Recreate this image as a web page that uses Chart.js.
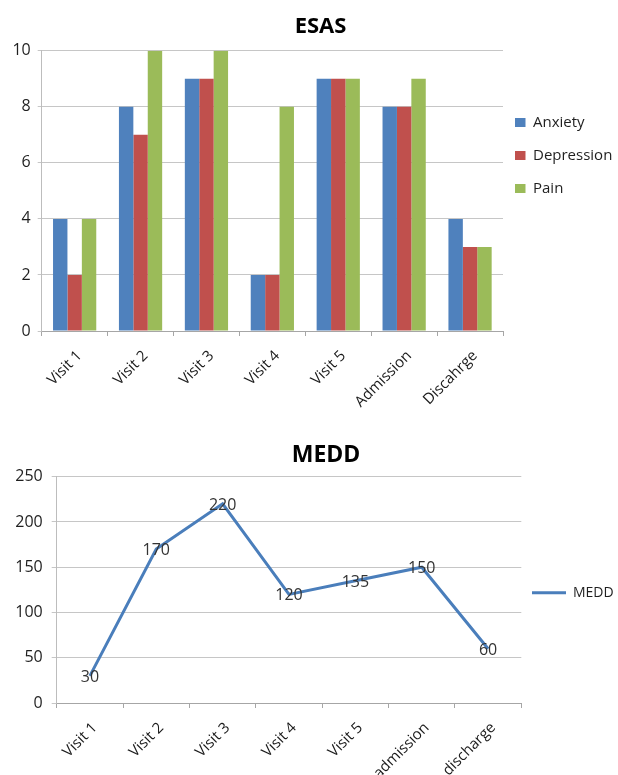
<!DOCTYPE html>
<html>
<head>
<meta charset="utf-8">
<script src="https://cdn.jsdelivr.net/npm/chart.js@4.4.1/dist/chart.umd.min.js"></script>
<style>
  html, body { margin: 0; padding: 0; background: #ffffff; }
  #wrap { position: relative; width: 618px; height: 775px; overflow: hidden; }
  canvas { position: absolute; left: 0; }
  #esas { top: 0; }
  #medd { top: 420px; }
</style>
</head>
<body>
<div id="wrap">
  <canvas id="esas" width="618" height="420"></canvas>
  <canvas id="medd" width="618" height="355"></canvas>
</div>
<script>
// ESAS symptom scores per visit
const esasCategories = ['Visit 1', 'Visit 2', 'Visit 3', 'Visit 4', 'Visit 5', 'Admission', 'Discahrge'];
const anxiety = [4, 8, 9, 2, 9, 8, 4];
const depression = [2, 7, 9, 2, 9, 8, 3];
const pain = [4, 10, 10, 8, 9, 9, 3];
const esasTicks = [0, 2, 4, 6, 8, 10];

// Morphine equivalent daily dose per visit
const meddCategories = ['Visit 1', 'Visit 2', 'Visit 3', 'Visit 4', 'Visit 5', 'admission', 'discharge'];
const medd = [30, 170, 220, 120, 135, 150, 60];
const meddTicks = [0, 50, 100, 150, 200, 250];

Chart.defaults.font.family = "'Open Sans', 'Liberation Sans', sans-serif";
Chart.defaults.color = '#1f1f1f';

// Fixes the legend column width and places the legend and title boxes.
const boxPlacement = {
  id: 'boxPlacement',
  beforeLayout(chart, args, opts) {
    const legend = chart.legend;
    if (legend && !legend.__fixedWidth) {
      const fit = legend.fit;
      legend.fit = function () { fit.call(this); this.width = opts.legendWidth; };
      legend.__fixedWidth = true;
    }
  },
  afterLayout(chart, args, opts) {
    const legend = chart.legend;
    if (legend) {
      legend.left = opts.legendLeft;
      legend.right = chart.width;
      legend.top = opts.legendTop;
      legend.bottom = chart.height;
    }
    const title = chart.titleBlock;
    if (title) {
      title.left = opts.titleX - 150;
      title.right = opts.titleX + 150;
    }
  }
};

// Writes each point's value on top of the point.
const pointValueLabels = {
  id: 'pointValueLabels',
  afterDatasetsDraw(chart, args, opts) {
    if (!opts.display) return;
    const ctx = chart.ctx;
    chart.data.datasets.forEach((ds, i) => {
      const meta = chart.getDatasetMeta(i);
      meta.data.forEach((pt, j) => {
        ctx.save();
        ctx.font = opts.font;
        ctx.fillStyle = opts.color;
        ctx.textAlign = 'center';
        ctx.textBaseline = 'middle';
        ctx.fillText(String(ds.data[j]), pt.x, pt.y + opts.dy);
        ctx.restore();
      });
    });
  }
};

const xLabelFont = { size: 15 };
const yLabelFont = { size: 16 };

new Chart(document.getElementById('esas'), {
  type: 'bar',
  data: {
    labels: esasCategories,
    datasets: [
      { label: 'Anxiety', data: anxiety, backgroundColor: '#4F81BD' },
      { label: 'Depression', data: depression, backgroundColor: '#C0504D' },
      { label: 'Pain', data: pain, backgroundColor: '#9BBB59' }
    ]
  },
  plugins: [boxPlacement, pointValueLabels],
  options: {
    responsive: false,
    animation: false,
    devicePixelRatio: 1,
    layout: { padding: 0 },
    datasets: { bar: { categoryPercentage: 0.656, barPercentage: 1.0 } },
    scales: {
      x: {
        offset: true,
        grid: { display: true, drawOnChartArea: false, drawTicks: true, tickLength: 5, color: '#a6a6a6', offset: true },
        border: { display: true, color: '#a6a6a6', width: 1 },
        ticks: { autoSkip: false, minRotation: 45, maxRotation: 45, font: xLabelFont, color: '#1a1a1a', padding: 11, labelOffset: 5 },
        afterFit(scale) { scale.height = 89; }
      },
      y: {
        min: 0,
        max: 10,
        afterBuildTicks(scale) { scale.ticks = esasTicks.map(v => ({ value: v })); },
        grid: { color: '#c6c6c6', drawTicks: true, tickLength: 4 },
        border: { display: true, color: '#bdbdbd', width: 1 },
        ticks: { font: yLabelFont, color: '#1f1f1f', padding: 7 },
        afterFit(scale) { scale.width = 41.7; }
      }
    },
    plugins: {
      title: {
        display: true,
        text: 'ESAS',
        font: { size: 22, weight: 'bold' },
        color: '#000000',
        padding: { top: 13.5, bottom: 10.8 }
      },
      legend: {
        display: true,
        position: 'right',
        align: 'start',
        labels: { boxWidth: 10.5, boxHeight: 9, padding: 18, font: { size: 15 }, color: '#1f1f1f' }
      },
      tooltip: { enabled: false },
      boxPlacement: { legendWidth: 115, legendLeft: 497, legendTop: 97, titleX: 320.5 },
      pointValueLabels: { display: false }
    }
  }
});

new Chart(document.getElementById('medd'), {
  type: 'line',
  data: {
    labels: meddCategories,
    datasets: [
      {
        label: 'MEDD',
        data: medd,
        borderColor: '#4A7EBB',
        backgroundColor: '#4A7EBB',
        borderWidth: 3,
        pointRadius: 0,
        pointHoverRadius: 0,
        tension: 0,
        fill: false
      }
    ]
  },
  plugins: [boxPlacement, pointValueLabels],
  options: {
    responsive: false,
    animation: false,
    devicePixelRatio: 1,
    layout: { padding: 0 },
    scales: {
      x: {
        offset: true,
        grid: { display: true, drawOnChartArea: false, drawTicks: true, tickLength: 5, color: '#a6a6a6', offset: true },
        border: { display: true, color: '#a6a6a6', width: 1 },
        ticks: { autoSkip: false, minRotation: 45, maxRotation: 45, font: xLabelFont, color: '#1a1a1a', padding: 11, labelOffset: 5 },
        afterFit(scale) { scale.height = 72; }
      },
      y: {
        min: 0,
        max: 250,
        afterBuildTicks(scale) { scale.ticks = meddTicks.map(v => ({ value: v })); },
        grid: { color: '#c6c6c6', drawTicks: true, tickLength: 5 },
        border: { display: true, color: '#bdbdbd', width: 1 },
        ticks: { font: yLabelFont, color: '#1f1f1f', padding: 9 },
        afterFit(scale) { scale.width = 56.7; }
      }
    },
    plugins: {
      title: {
        display: true,
        text: 'MEDD',
        font: { size: 23, weight: 'bold' },
        color: '#000000',
        padding: { top: 21.5, bottom: 7.6 }
      },
      legend: {
        display: true,
        position: 'right',
        align: 'start',
        labels: { usePointStyle: true, pointStyle: 'line', pointStyleWidth: 34, padding: 10, font: { size: 14 }, color: '#1f1f1f' }
      },
      tooltip: { enabled: false },
      boxPlacement: { legendWidth: 96.7, legendLeft: 522, legendTop: 155.7, titleX: 326 },
      pointValueLabels: { display: true, font: "16px 'Open Sans', 'Liberation Sans', sans-serif", color: '#333333', dy: 1.5 }
    }
  }
});
</script>
</body>
</html>
